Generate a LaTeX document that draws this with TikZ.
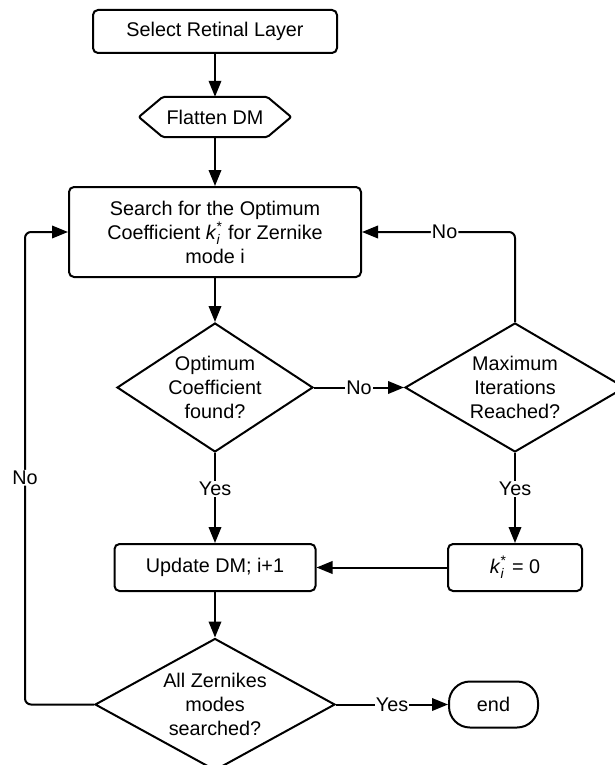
\documentclass[tikz,border=0pt]{standalone}
\usepackage{fontspec}
\setmainfont{Liberation Sans}
\usepackage{amsmath}
\usetikzlibrary{shapes.geometric,arrows.meta}

\begin{document}
\begin{tikzpicture}[x=1pt,y=-1pt,
        font=\fontsize{19.8}{24}\selectfont,
        box/.style={draw,line width=2pt,rounded corners=5pt,align=center,inner sep=0pt},
        test/.style={draw,diamond,line width=2pt,align=center,inner sep=0pt},
        link/.style={line width=2pt,-{Triangle[length=16pt,width=12.5pt]}},
        lbl/.style={fill=white,inner sep=1pt}]
        \useasboundingbox (0,0) rectangle (615,765);
        \node[box,minimum width=244pt,minimum height=43pt] (sel) at (215,31.5) {Select Retinal Layer};
        \node[minimum width=152pt,minimum height=40pt,inner sep=0pt] (flat) at (215,117) {Flatten DM};
        \draw[line width=2pt,rounded corners=2pt] (flat.west) -- ([xshift=24pt]flat.north west) -- ([xshift=-24pt]flat.north east) -- (flat.east) -- ([xshift=-24pt]flat.south east) -- ([xshift=24pt]flat.south west) -- cycle;
        \node[box,minimum width=292pt,minimum height=90pt] (srch) at (215,232) {Search for the Optimum\\Coefficient \textit{k}$_{\text{\itshape i}}^{\text{*}}$ for Zernike\\mode i};
        \node[test,aspect=1.52,minimum width=196pt,minimum height=129pt] (dia1) at (215,387.5) {Optimum\\Coefficient\\found?};
        \node[test,aspect=1.7,minimum width=220pt,minimum height=129pt] (dia2) at (515,387.5) {Maximum\\Iterations\\Reached?};
        \node[box,minimum width=201pt,minimum height=47pt] (upd) at (215,567.5) {Update DM; i+1};
        \node[box,minimum width=134pt,minimum height=47pt] (zero) at (515,567.5) {\textit{k}$_{\text{\itshape i}}^{\text{*}}$ = 0};
        \node[test,aspect=1.82,minimum width=240pt,minimum height=132pt] (dia3) at (215,704.5) {All Zernikes\\modes\\searched?};
        \node[box,rounded corners=21pt,minimum width=89pt,minimum height=46pt] (stop) at (493.5,704.5) {end};
        \coordinate (back) at (25,704.5);
        % main column
        \draw[link] (sel) -- (flat);
        \draw[link] (flat) -- (srch);
        \draw[link] (srch) -- (dia1);
        \draw[link] (dia1) -- node[lbl,pos=0.4] {Yes} (upd);
        \draw[link] (upd) -- (dia3);
        % right branch
        \draw[link] (dia1) -- node[lbl] {No} (dia2);
        \draw[link] (dia2) -- node[lbl,pos=0.4] {Yes} (zero);
        \draw[link] (zero) -- (upd);
        \draw[link,rounded corners=6pt] (dia2.north) |- node[lbl,pos=0.73] {No} (srch.east);
        % loop back and exit
        \draw[link,rounded corners=6pt] (dia3.west) -- (back) |- node[lbl,pos=0.24] {No} (srch.west);
        \draw[link] (dia3) -- node[lbl] {Yes} (stop);
\end{tikzpicture}
\end{document}
